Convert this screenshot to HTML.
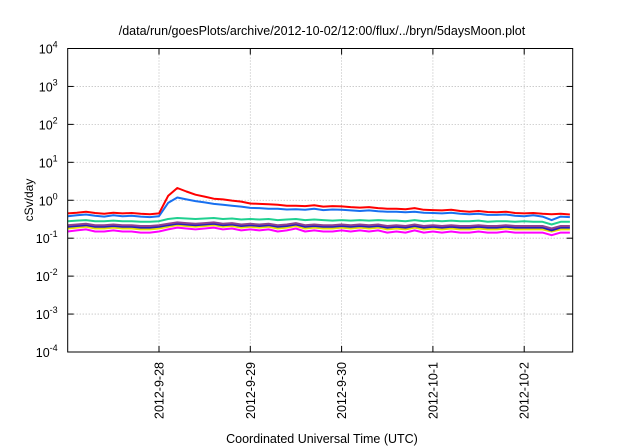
<!DOCTYPE html>
<html><head><meta charset="utf-8"><style>
body{margin:0;background:#fff;}
svg{display:block;font-family:"Liberation Sans",sans-serif;}
</style></head><body>
<svg id="chart" width="640" height="448">
<text x="322" y="35" font-size="12.5" text-anchor="middle">/data/run/goesPlots/archive/2012-10-02/12:00/flux/../bryn/5daysMoon.plot</text>
<g id="grid"></g>
<g id="series"></g>
<rect x="67.7" y="48.5" width="505" height="303.5" fill="none" stroke="#000" stroke-width="1"/>
<g id="axes"></g>
<text transform="translate(33,200) rotate(-90)" font-size="12" text-anchor="middle">cSv/day</text>
<text x="322" y="443" font-size="12.5" text-anchor="middle">Coordinated Universal Time (UTC)</text>
</svg>
<script>
const yExponents=[-4,-3,-2,-1,0,1,2,3,4];
const xTickDays=[1,2,3,4,5];
const xTickLabels=["2012-9-28","2012-9-29","2012-9-30","2012-10-1","2012-10-2"];
const stepDays=0.1;
const red=[0.45,0.47,0.5,0.46,0.44,0.47,0.45,0.46,0.44,0.43,0.45,1.3,2.1,1.7,1.4,1.25,1.1,1.05,0.98,0.92,0.82,0.8,0.78,0.76,0.72,0.72,0.7,0.74,0.68,0.7,0.69,0.66,0.64,0.66,0.62,0.6,0.6,0.58,0.62,0.56,0.55,0.54,0.56,0.52,0.5,0.52,0.49,0.48,0.5,0.46,0.45,0.46,0.44,0.43,0.44,0.42];
const blue=[0.38,0.4,0.42,0.39,0.37,0.4,0.38,0.39,0.37,0.36,0.38,0.85,1.18,1.05,0.95,0.88,0.8,0.76,0.72,0.68,0.63,0.62,0.6,0.6,0.57,0.58,0.56,0.6,0.55,0.57,0.56,0.54,0.52,0.54,0.51,0.5,0.5,0.48,0.5,0.47,0.46,0.45,0.47,0.44,0.43,0.44,0.41,0.41,0.42,0.39,0.38,0.4,0.37,0.3,0.37,0.36];
const green=[0.28,0.29,0.3,0.28,0.28,0.29,0.28,0.28,0.27,0.27,0.28,0.32,0.34,0.33,0.32,0.33,0.34,0.32,0.33,0.31,0.32,0.31,0.32,0.3,0.31,0.32,0.3,0.31,0.3,0.29,0.3,0.29,0.3,0.29,0.3,0.29,0.29,0.28,0.3,0.28,0.29,0.28,0.29,0.28,0.28,0.29,0.27,0.28,0.28,0.27,0.28,0.27,0.27,0.23,0.27,0.27];
const purple=[0.22,0.23,0.24,0.22,0.22,0.23,0.22,0.22,0.21,0.21,0.22,0.24,0.26,0.25,0.24,0.25,0.26,0.24,0.25,0.23,0.24,0.23,0.24,0.22,0.23,0.25,0.22,0.23,0.22,0.22,0.23,0.22,0.23,0.22,0.23,0.21,0.22,0.21,0.23,0.21,0.22,0.21,0.22,0.21,0.21,0.22,0.21,0.21,0.22,0.21,0.21,0.21,0.21,0.18,0.21,0.21];
const navy=[0.2,0.21,0.22,0.2,0.2,0.21,0.2,0.2,0.19,0.19,0.2,0.22,0.24,0.23,0.22,0.23,0.24,0.22,0.23,0.21,0.22,0.21,0.22,0.2,0.21,0.23,0.2,0.21,0.2,0.2,0.21,0.2,0.21,0.2,0.21,0.19,0.2,0.19,0.21,0.19,0.2,0.19,0.2,0.19,0.19,0.2,0.19,0.19,0.2,0.19,0.19,0.19,0.19,0.16,0.19,0.19];
const yellow=[0.18,0.19,0.2,0.18,0.18,0.19,0.18,0.18,0.17,0.17,0.18,0.2,0.22,0.21,0.2,0.21,0.22,0.2,0.21,0.19,0.2,0.19,0.2,0.18,0.19,0.21,0.18,0.19,0.18,0.18,0.19,0.18,0.19,0.18,0.19,0.17,0.18,0.17,0.19,0.17,0.18,0.17,0.18,0.17,0.17,0.18,0.17,0.17,0.18,0.17,0.17,0.17,0.17,0.15,0.17,0.17];
const magenta=[0.15,0.16,0.17,0.15,0.15,0.16,0.15,0.15,0.14,0.14,0.15,0.17,0.19,0.18,0.17,0.18,0.19,0.17,0.18,0.16,0.17,0.16,0.17,0.15,0.16,0.18,0.15,0.16,0.15,0.15,0.16,0.15,0.16,0.15,0.16,0.14,0.15,0.14,0.16,0.14,0.15,0.14,0.15,0.14,0.14,0.15,0.14,0.14,0.15,0.14,0.14,0.14,0.14,0.12,0.14,0.14];
const seriesList=[["magenta-series",magenta,"#ff00ff"],["yellow-series",yellow,"#e8e000"],["navy-series",navy,"#2020c0"],["purple-series",purple,"#904090"],["green-series",green,"#20d090"],["blue-series",blue,"#1870f0"],["red-series",red,"#ff0000"]];
const L=67.7,R=572.7,T=48.5,B=352,dayPx=91.3;
const X=d=>L+d*dayPx;
const Y=v=>B-(Math.log10(v)+4)*(B-T)/8;
const NS="http://www.w3.org/2000/svg";
function mk(tag,attrs,parent){const e=document.createElementNS(NS,tag);for(const k in attrs)e.setAttribute(k,attrs[k]);parent.appendChild(e);return e;}
const grid=document.getElementById('grid'),axes=document.getElementById('axes'),ser=document.getElementById('series');
yExponents.forEach(p=>{
  const y=B-(p+4)*(B-T)/8;
  if(p>-4&&p<4){const g=mk('line',{x1:L,x2:R,y1:y,y2:y,stroke:'#aaa','stroke-dasharray':'1,2','stroke-width':0.8},grid);
  
  }
  const t1=mk('line',{x1:L,x2:L+6,y1:y,y2:y,stroke:'#000'},axes);
  
  
  const t2=mk('line',{x1:R-6,x2:R,y1:y,y2:y,stroke:'#000'},axes);
  
  
  const tx=mk('text',{x:L-10,y:y+5,'font-size':12.5,'text-anchor':'end'},axes);
  
  
  tx.appendChild(document.createTextNode('10'));
  const sp=mk('tspan',{dy:-6,'font-size':9},tx);sp.textContent=String(p);
});
xTickDays.forEach((d,i)=>{
  const x=X(d);
  const g=mk('line',{x1:x,x2:x,y1:T,y2:B,stroke:'#aaa','stroke-dasharray':'1,2','stroke-width':0.8},grid);
  
  
  const t1=mk('line',{x1:x,x2:x,y1:B-6,y2:B,stroke:'#000'},axes);
  
  
  const t2=mk('line',{x1:x,x2:x,y1:T,y2:T+6,stroke:'#000'},axes);
  
  
  const tx=mk('text',{transform:`translate(${x+4.5},${B+10}) rotate(-90)`,'font-size':12.5,'text-anchor':'end'},axes);
  
  
  tx.textContent=xTickLabels[i];
});
seriesList.forEach(([name,vals,col])=>{
  const pts=vals.map((v,i)=>X(i*stepDays).toFixed(1)+','+Y(v).toFixed(1)).join(' ');
  const pl=mk('polyline',{points:pts,fill:'none',stroke:col,'stroke-width':2,'stroke-linejoin':'round'},ser);
  
  
});
</script>
</body></html>
